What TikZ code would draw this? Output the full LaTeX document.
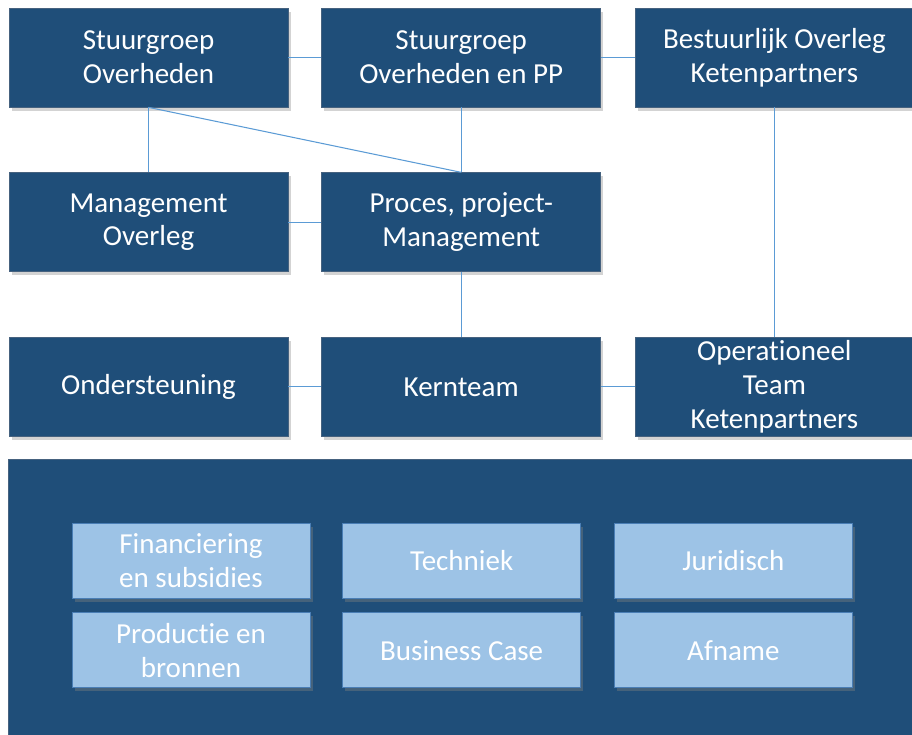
\documentclass[tikz,border=0pt]{standalone}
\usepackage{fontspec}
\setmainfont{Carlito}[Ligatures=NoCommon]
\usetikzlibrary{positioning,fit,shadows,backgrounds}
\definecolor{boxblue}{HTML}{1F4E79}
\definecolor{boxedge}{HTML}{46627F}
\definecolor{taskblue}{HTML}{9DC3E6}
\definecolor{taskedge}{HTML}{4A7EB5}
\definecolor{linkblue}{HTML}{5B9BD5}

\begin{document}
\begin{tikzpicture}[node distance=6.6mm, font=\fontsize{16.5}{19.3}\selectfont]
\tikzstyle{unit}=[rectangle, draw=boxedge, fill=boxblue, text=white, align=center, minimum width=55.8mm, minimum height=19.8mm, inner sep=0pt, drop shadow={shadow xshift=1.5pt, shadow yshift=-2pt, opacity=0.35}]
\tikzstyle{task}=[rectangle, draw=taskedge, fill=taskblue, text=white, align=center, minimum width=47.6mm, minimum height=15mm, inner sep=0pt, drop shadow={shadow xshift=1.5pt, shadow yshift=-2pt, opacity=0.4}]
\tikzstyle{panel}=[rectangle, draw=boxedge, fill=boxblue, inner sep=12.6mm]
\tikzstyle{link}=[draw=linkblue, line width=0.6pt]
\useasboundingbox (0,0) rectangle (18.24,-14.7);
\node[unit] (sgo) at (2.97,-1.15) {Stuurgroep\\ Overheden};
\node[unit, right=of sgo] (sgpp) {Stuurgroep\\ Overheden en PP};
\node[unit, right=6.7mm of sgpp] (bok) {Bestuurlijk Overleg\\ Ketenpartners};
\node[unit, below=13mm of sgo] (mo) {Management\\ Overleg};
\node[unit, right=of mo] (ppm) {Proces, project-\\ Management};
\node[unit, below=13mm of mo] (ond) {Ondersteuning};
\node[unit, right=of ond] (kt) {Kernteam};
\node[unit, right=6.7mm of kt] (otk) {Operationeel\\ Team\\ Ketenpartners};
% werkgroepen
\node[task] (fin) at (3.82,-11.21) {Financiering\\ en subsidies};
\node[task, right=6.4mm of fin] (tech) {Techniek};
\node[task, right=of tech] (jur) {Juridisch};
\node[task, below=2.8mm of fin] (prod) {Productie en\\ bronnen};
\node[task, below=2.8mm of tech] (bc) {Business Case};
\node[task, below=2.8mm of jur] (afn) {Afname};
\begin{scope}[on background layer]
\node[panel, fit=(fin)(afn)] (wg) {};
\end{scope}
\draw[link] (sgo) -- (sgpp);
\draw[link] (sgpp) -- (bok);
\draw[link] (sgo.south) -- (mo.north);
\draw[link] (sgo.south) -- (ppm.north);
\draw[link] (sgpp) -- (ppm);
\draw[link] (mo) -- (ppm);
\draw[link] (ppm) -- (kt);
\draw[link] (ond) -- (kt);
\draw[link] (kt) -- (otk);
\draw[link] (bok) -- (otk);
\end{tikzpicture}
\end{document}
